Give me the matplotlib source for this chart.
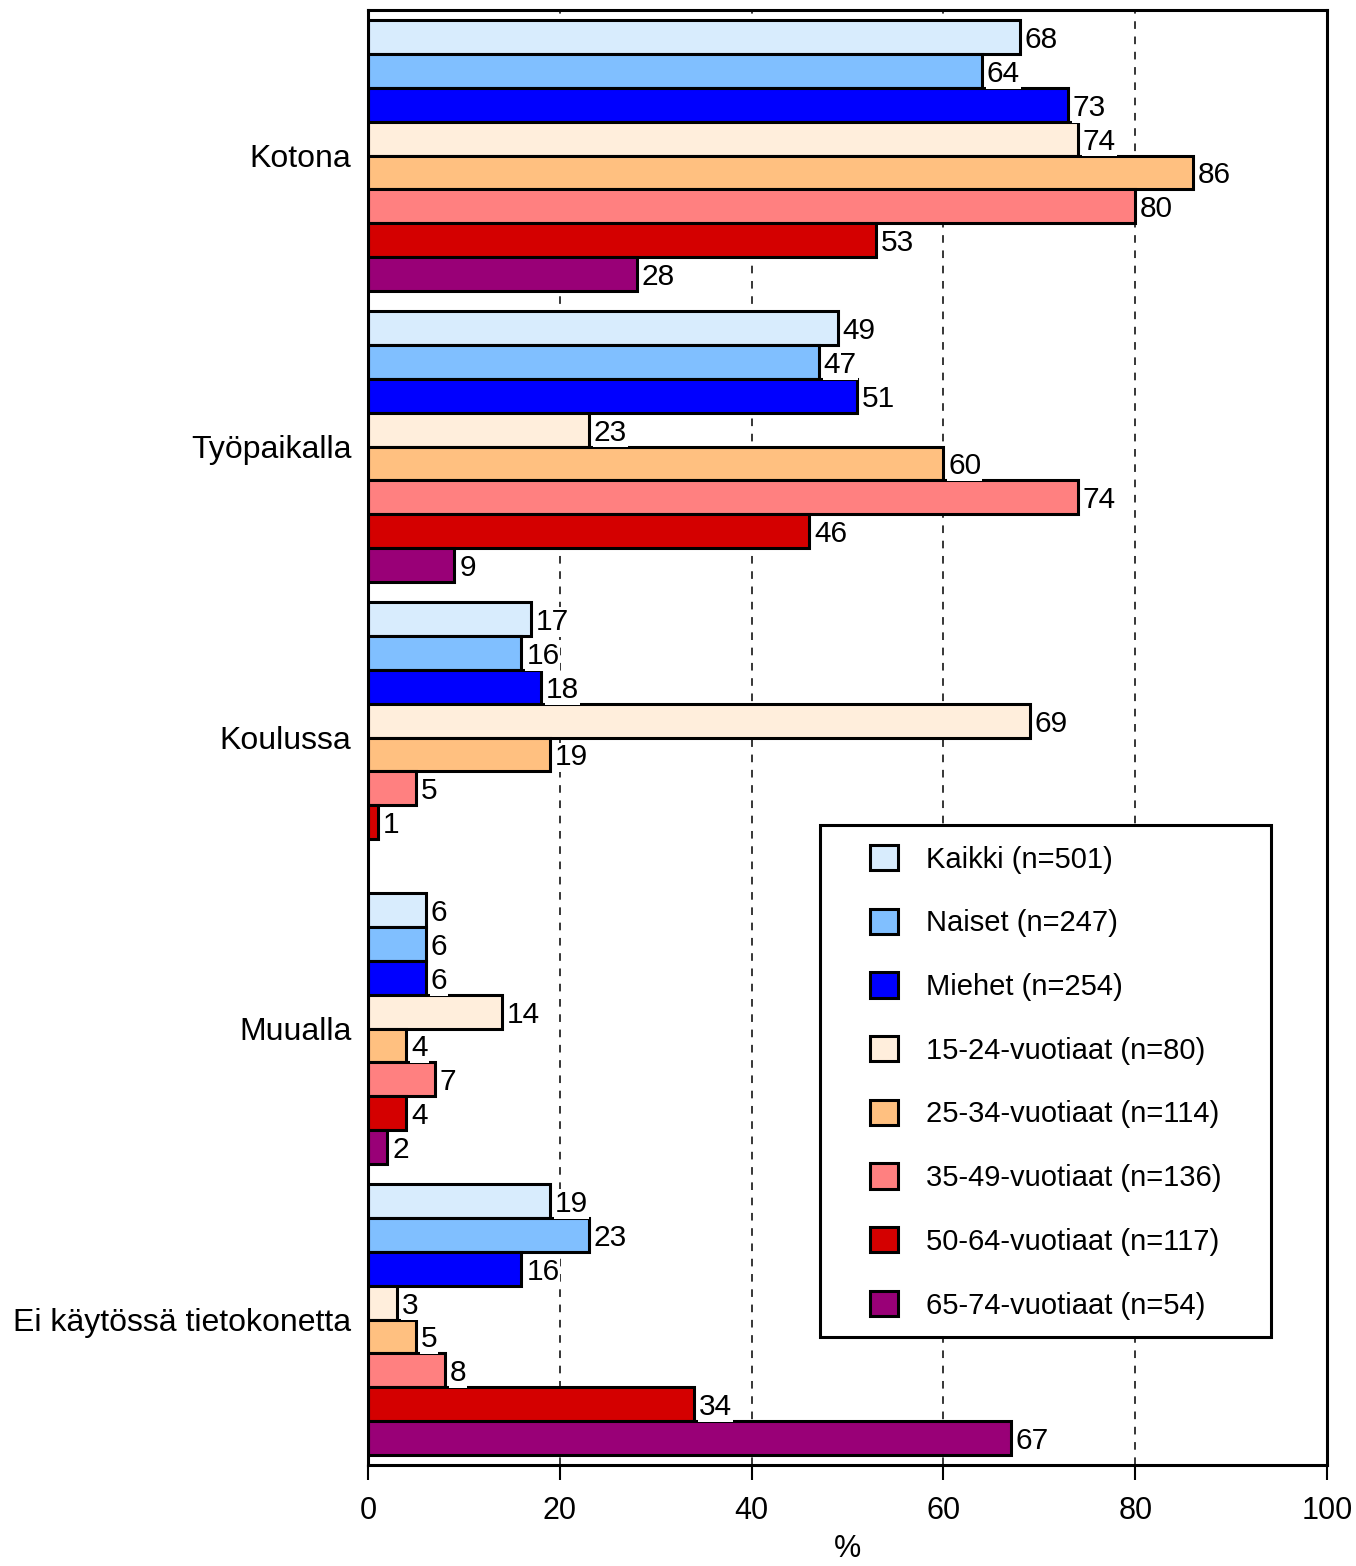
import numpy as np
import matplotlib
matplotlib.use("Agg")
import matplotlib.pyplot as plt
from matplotlib.patches import Rectangle

plt.rcParams['font.family'] = ['Liberation Sans', 'DejaVu Sans']

categories = ["Kotona", "Työpaikalla", "Koulussa", "Muualla", "Ei käytössä tietokonetta"]

series_names = ["Kaikki (n=501)", "Naiset (n=247)", "Miehet (n=254)",
                "15-24-vuotiaat (n=80)", "25-34-vuotiaat (n=114)",
                "35-49-vuotiaat (n=136)", "50-64-vuotiaat (n=117)",
                "65-74-vuotiaat (n=54)"]

kaikki = [68, 49, 17, 6, 19]
naiset = [64, 47, 16, 6, 23]
miehet = [73, 51, 18, 6, 16]
v15_24 = [74, 23, 69, 14, 3]
v25_34 = [86, 60, 19, 4, 5]
v35_49 = [80, 74, 5, 7, 8]
v50_64 = [53, 46, 1, 4, 34]
v65_74 = [28, 9, None, 2, 67]

series = [kaikki, naiset, miehet, v15_24, v25_34, v35_49, v50_64, v65_74]
colors = ["#D8ECFD", "#80BFFF", "#0000FF", "#FFEEDC", "#FFC080",
          "#FF8080", "#D40000", "#990077"]

fig = plt.figure(figsize=(13.56, 15.66), dpi=100)
ax = fig.add_axes([368/1356, 1-1465/1566, (1327-368)/1356, (1465-10)/1566])

h = 0.1165
lw = 2.2
handles = []
for j, (vals, col, name) in enumerate(zip(series, colors, series_names)):
    ys = np.arange(len(categories)) + (j - 3.5) * h
    for i, v in enumerate(vals):
        if v is None:
            continue
        ax.barh(ys[i], v, height=h, color=col, edgecolor='black', linewidth=lw, zorder=3)
        ax.annotate(str(v), (v, ys[i]), xytext=(3.5, 0), textcoords='offset points',
                    ha='left', va='center_baseline', fontsize=21.5, zorder=5,
                    bbox=dict(boxstyle='square,pad=0.03', fc='white', ec='none'))
    handles.append(Rectangle((0, 0), 1, 1, fc=col, ec='black', lw=lw, label=name))

ax.set_xlim(0, 100)
ax.set_ylim(len(categories) - 0.5, -0.5)
ax.set_xticks(np.arange(0, 101, 20))
ax.set_yticks(np.arange(len(categories)))
ax.set_yticklabels(categories)
for x in [20, 40, 60, 80]:
    ax.axvline(x, color='black', lw=1.1, ls=(0, (5, 5)), zorder=1)

ax.tick_params(axis='x', labelsize=22, length=11, width=1.5, direction='out', pad=11)
ax.tick_params(axis='y', labelsize=23, length=0, pad=12)
for s in ax.spines.values():
    s.set_linewidth(lw)
    s.set_zorder(6)
ax.set_xlabel("%", fontsize=22, labelpad=6)

# legend frame drawn separately so the side padding can differ from top/bottom
fig.patches.append(Rectangle((820/1356, 1-1337/1566), (1271-820)/1356, (1337-825)/1566,
                             transform=fig.transFigure, fc='white', ec='black', lw=lw, zorder=10))
leg = fig.legend(handles=handles, loc='upper left',
                 bbox_to_anchor=(870/1356, 1-845/1566), frameon=False, fontsize=21,
                 borderpad=0, borderaxespad=0, handlelength=0.96, handleheight=0.96,
                 handletextpad=0.95, labelspacing=1.2)
leg.set_zorder(11)

fig.savefig("out.png", dpi=100)
